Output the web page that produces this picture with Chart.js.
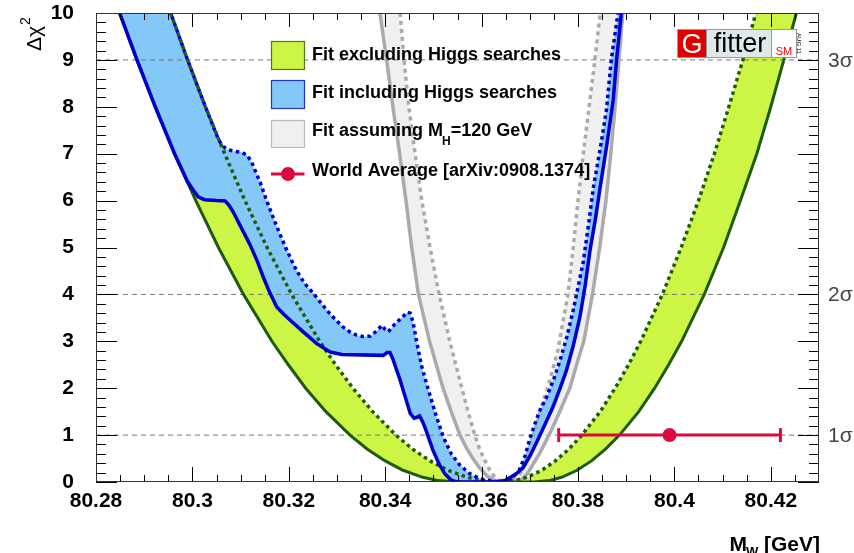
<!DOCTYPE html>
<html>
<head>
<meta charset="utf-8">
<script src="https://cdn.jsdelivr.net/npm/chart.js@4.4.0/dist/chart.umd.min.js"></script>
<style>
  html, body { margin: 0; padding: 0; background: #fff; overflow: hidden; }
  canvas { display: block; }
</style>
</head>
<body>
<canvas id="c" width="854" height="553"></canvas>
<script>
// Axis ticks
const massTicks = [80.28, 80.30, 80.32, 80.34, 80.36, 80.38, 80.40, 80.42];
const chi2Ticks = [0, 1, 2, 3, 4, 5, 6, 7, 8, 9, 10];
const sigmaLevels = [1, 4, 9];
const sigmaLabels = ['1\u03c3', '2\u03c3', '3\u03c3'];

// Fit excluding Higgs searches: edges of the theory band [M_W, delta chi2]
const exclSolid = [
  [80.2849,10],[80.2885,9],[80.2923,8],[80.2963,7],[80.3007,6],[80.3054,5],[80.3106,4],
  [80.3165,3],[80.3199,2.5],[80.3235,2],[80.3277,1.5],[80.3327,1],[80.3363,0.7],
  [80.3400,0.45],[80.3437,0.25],[80.3478,0.1],[80.3510,0.03],[80.3548,0],[80.3710,0],
  [80.3740,0.03],[80.3766,0.1],[80.3798,0.25],[80.3828,0.45],[80.3857,0.7],[80.3886,1],
  [80.3926,1.5],[80.3959,2],[80.3988,2.5],[80.4015,3],[80.4062,4],[80.4102,5],[80.4137,6],
  [80.4171,7],[80.4200,8],[80.4227,9],[80.4253,10]
];
const exclDotted = [
  [80.2955,10],[80.2990,9],[80.3027,8],[80.3067,7],[80.3109,6],[80.3155,5],[80.3206,4],
  [80.3264,3],[80.3297,2.5],[80.3333,2],[80.3374,1.5],[80.3422,1],[80.3457,0.7],
  [80.3493,0.45],[80.3530,0.25],[80.3570,0.1],[80.3601,0.03],[80.3638,0],[80.3670,0.03],
  [80.3694,0.1],[80.3725,0.25],[80.3753,0.45],[80.3781,0.7],[80.3808,1],[80.3846,1.5],
  [80.3877,2],[80.3905,2.5],[80.3930,3],[80.3975,4],[80.4014,5],[80.4050,6],[80.4083,7],
  [80.4113,8],[80.4142,9],[80.4169,10]
];

// Fit including Higgs searches
const inclSolid = [
  [80.2849,10],[80.2885,9],[80.2923,8],[80.2963,7],[80.2990,6.4],[80.3002,6.22],[80.3012,6.08],
  [80.3025,6.02],[80.3050,6.0],[80.3068,5.99],[80.3076,5.9],[80.3085,5.75],[80.3100,5.45],
  [80.3120,5.05],[80.3135,4.7],[80.3147,4.37],[80.3160,4.05],[80.3175,3.73],[80.3190,3.57],
  [80.3203,3.45],[80.3230,3.2],[80.3258,2.95],[80.3286,2.77],[80.3310,2.72],[80.3396,2.70],
  [80.3404,2.76],[80.3410,2.76],[80.3416,2.62],[80.3431,2.17],[80.3452,1.46],[80.3460,1.36],
  [80.3466,1.38],[80.3471,1.41],[80.3477,1.3],[80.3483,1.15],[80.3499,0.68],[80.3512,0.38],
  [80.3524,0.17],[80.3537,0.04],[80.3548,0],[80.3631,0],[80.3650,0.04],[80.3670,0.16],
  [80.3686,0.3],[80.3700,0.55],[80.3712,0.8],[80.3728,1.15],[80.3748,1.6],[80.3763,2.0],
  [80.3776,2.38],[80.3790,2.9],[80.3804,3.52],[80.3815,4.2],[80.3825,4.94],[80.3836,5.6],
  [80.3846,6.29],[80.3860,7.2],[80.3873,8.14],[80.3880,9],[80.3890,10]
];
const inclDotted = [
  [80.2955,10],[80.2990,9],[80.3027,8],[80.3054,7.3],[80.3063,7.16],[80.3073,7.09],[80.3088,7.05],
  [80.3103,7.03],[80.3113,6.97],[80.3122,6.84],[80.3131,6.62],[80.3141,6.38],[80.3152,6.06],
  [80.3166,5.68],[80.3181,5.3],[80.3196,4.94],[80.3210,4.63],[80.3224,4.37],[80.3238,4.17],
  [80.3251,4.02],[80.3265,3.84],[80.3279,3.66],[80.3296,3.47],[80.3313,3.30],[80.3327,3.2],
  [80.3341,3.13],[80.3355,3.10],[80.3369,3.11],[80.3382,3.22],[80.3393,3.34],[80.3400,3.25],
  [80.3406,3.2],[80.3413,3.28],[80.3420,3.37],[80.3434,3.5],[80.3446,3.62],[80.3452,3.6],
  [80.3458,3.4],[80.3466,2.95],[80.3476,2.45],[80.3490,1.95],[80.3506,1.4],[80.3521,0.95],
  [80.3537,0.6],[80.3555,0.36],[80.3575,0.18],[80.3597,0.07],[80.3620,0.02],[80.3640,0],
  [80.3652,0.03],[80.3664,0.1],[80.3678,0.25],[80.3690,0.55],[80.3700,0.92],[80.3711,1.25],
  [80.3721,1.53],[80.3735,1.81],[80.3750,2.2],[80.3763,2.6],[80.3777,3.1],[80.3790,3.66],
  [80.3801,4.2],[80.3811,4.7],[80.3822,5.5],[80.3832,6.29],[80.3846,7.1],[80.3859,7.93],
  [80.3869,9],[80.3883,10]
];

// Fit assuming M_H = 120 GeV
const mh120Solid = [
  [80.3389,10],[80.3403,9],[80.3416,8],[80.3430,7],[80.3443,6],[80.3455,5],[80.3469,4],
  [80.3492,3],[80.3520,2],[80.3537,1.5],[80.3555,1],[80.3570,0.7],[80.3582,0.5],[80.3596,0.3],
  [80.3612,0.12],[80.3628,0.03],[80.3645,0],[80.3668,0],[80.3682,0.05],[80.3695,0.18],
  [80.3708,0.4],[80.3720,0.6],[80.3740,1.0],[80.3760,1.45],[80.3783,2.0],[80.3800,2.6],
  [80.3812,3.0],[80.3830,4.0],[80.3845,5.0],[80.3858,6.0],[80.3868,7.0],[80.3877,8.0],
  [80.3885,9.0],[80.3893,10]
];
const mh120Dotted = [
  [80.3431,10],[80.3439,9],[80.3449,8],[80.3462,7],[80.3476,6],[80.3493,5],[80.3512,4],
  [80.3534,3],[80.3559,2],[80.3572,1.5],[80.3586,1],[80.3596,0.7],[80.3605,0.5],[80.3617,0.25],
  [80.3630,0.07],[80.3645,0],[80.3663,0.05],[80.3680,0.18],[80.3692,0.45],[80.3700,0.7],
  [80.3715,1.25],[80.3727,1.7],[80.3737,2.0],[80.3758,2.8],[80.3779,4.0],[80.3790,5.0],
  [80.3800,6.0],[80.3811,7.0],[80.3823,8.0],[80.3835,9.0],[80.3846,10]
];

// World average measurement (GeV)
const worldAvgMass = [80.399];
const worldAvgErr = [0.023];
const worldAvgChi2 = [1];

const C = {
  greenFill: '#ccf545', greenLine: '#1e5b0c',
  blueFill: '#84c8f7', blueLine: '#0000cc',
  grayFill: '#f0f0f0', grayLine: '#aaaaaa',
  red: '#dc0a3c', dash: '#777777'
};

const pts = arr => arr.map(([x, y]) => ({ x, y }));
const band = (a, b) => pts(a.concat(b.slice().reverse()));

const bandSet = (data, color, order) => ({
  data, order, fill: 'shape', backgroundColor: color,
  borderWidth: 0, borderColor: 'rgba(0,0,0,0)', pointRadius: 0
});
const lineSet = (data, color, width, order, dash, offset) => ({
  data: pts(data), order, borderColor: color, borderWidth: width, fill: false,
  pointRadius: 0, borderDash: dash || [], borderDashOffset: offset || 0, borderCapStyle: 'butt'
});

const datasets = [
  bandSet(band(exclSolid, exclDotted), C.greenFill, 20),
  bandSet(band(mh120Solid, mh120Dotted), C.grayFill, 19),
  bandSet(band(inclSolid, inclDotted), C.blueFill, 18),
  ...sigmaLevels.map(l => ({
    data: [{ x: 80.28, y: l }, { x: 80.43, y: l }], order: 17,
    borderColor: C.dash, borderWidth: 1, borderDash: [5, 4], pointRadius: 0, fill: false
  })),
  lineSet(mh120Solid, C.grayLine, 3.5, 16),
  lineSet(mh120Dotted, C.grayLine, 3.5, 15, [4, 4]),
  lineSet(exclSolid, C.greenLine, 3, 14),
  lineSet(exclDotted, C.greenLine, 3.5, 13, [3.5, 3.5]),
  lineSet(inclSolid, C.blueLine, 3.5, 12),
  lineSet(inclDotted, C.blueLine, 3.5, 11, [3.5, 3.5], 3.5),
  {
    // error bar with end caps
    data: [{ x: worldAvgMass[0] - worldAvgErr[0], y: worldAvgChi2[0] },
           { x: worldAvgMass[0] + worldAvgErr[0], y: worldAvgChi2[0] }],
    order: 2, borderColor: C.red, borderWidth: 3, fill: false,
    pointStyle: 'line', pointRotation: 90, pointRadius: 7,
    pointBorderWidth: 3, pointBorderColor: C.red, pointBackgroundColor: C.red
  },
  {
    data: worldAvgMass.map((m, i) => ({ x: m, y: worldAvgChi2[i] })),
    order: 1, showLine: false, pointStyle: 'circle', pointRadius: 7,
    pointBackgroundColor: C.red, pointBorderColor: C.red, pointBorderWidth: 0
  }
];

const FONT = '"Liberation Sans", Arial, sans-serif';

const decor = {
  id: 'decor',
  afterDatasetsDraw(chart) {
    const { ctx, chartArea: a, scales: { x, y } } = chart;
    ctx.save();
    ctx.strokeStyle = '#000';
    ctx.lineWidth = 1;
    ctx.beginPath();
    for (let k = 0; k < 30; k++) {
      const px = Math.round(x.getPixelForValue(80.28 + k * 0.005)) + 0.5;
      const major = k % 4 === 0;
      ctx.moveTo(px, a.bottom); ctx.lineTo(px, a.bottom - (major ? 15 : 7));
      ctx.moveTo(px, a.top); ctx.lineTo(px, a.top + (major ? 14 : 7));
    }
    for (let k = 0; k <= 50; k++) {
      const py = Math.round(y.getPixelForValue(k * 0.2)) + 0.5;
      const len = k % 5 === 0 ? 21 : 10;
      ctx.moveTo(a.left, py); ctx.lineTo(a.left + len, py);
      ctx.moveTo(a.right, py); ctx.lineTo(a.right - len, py);
    }
    ctx.stroke();
    ctx.strokeStyle = '#333';
    ctx.strokeRect(Math.round(a.left) + 0.5, Math.round(a.top) + 0.5,
                   Math.round(a.right - a.left) - 1, Math.round(a.bottom - a.top) - 1);

    // sigma labels on the right axis
    ctx.fillStyle = '#444';
    ctx.font = '21px ' + FONT;
    ctx.textAlign = 'left';
    ctx.textBaseline = 'middle';
    sigmaLevels.forEach((l, i) => ctx.fillText(sigmaLabels[i], a.right + 9, y.getPixelForValue(l) + 1));
    ctx.restore();
  },
  afterDraw(chart) {
    const { ctx } = chart;
    ctx.save();
    ctx.fillStyle = '#000';
    ctx.textBaseline = 'alphabetic';

    // y-axis title
    ctx.save();
    ctx.translate(41, 51);
    ctx.rotate(-Math.PI / 2);
    ctx.font = '21px ' + FONT;
    ctx.textAlign = 'left';
    ctx.fillText('\u0394\u03c7', 0, 0);
    const wt = ctx.measureText('\u0394\u03c7').width;
    ctx.font = '14px ' + FONT;
    ctx.fillText('2', wt + 1, -11);
    ctx.restore();

    // x-axis title
    ctx.textAlign = 'left';
    ctx.font = 'bold 21px ' + FONT;
    const wM = ctx.measureText('M').width;
    const wR = ctx.measureText(' [GeV]').width;
    ctx.font = 'bold 13px ' + FONT;
    const wW = ctx.measureText('W').width;
    let tx = 820 - (wM + wW + wR) + 1;
    ctx.font = 'bold 21px ' + FONT;
    ctx.fillText('M', tx, 551);
    ctx.font = 'bold 13px ' + FONT;
    ctx.fillText('W', tx + wM - 1, 556);
    ctx.font = 'bold 21px ' + FONT;
    ctx.fillText(' [GeV]', tx + wM + wW - 1, 551);

    // legend
    const bx = 271.5, bw = 33, tx0 = 312;
    const box = (top, h, fill, stroke) => {
      ctx.fillStyle = fill; ctx.fillRect(bx, top, bw, h);
      ctx.strokeStyle = stroke; ctx.lineWidth = 1.2; ctx.strokeRect(bx, top, bw, h);
    };
    box(41.5, 28, C.greenFill, '#4a7a1a');
    box(80.5, 28, C.blueFill, '#2233cc');
    box(120.5, 27, C.grayFill, '#bbbbbb');
    ctx.strokeStyle = C.red; ctx.lineWidth = 3;
    ctx.beginPath(); ctx.moveTo(bx - 0.5, 174); ctx.lineTo(bx + bw, 174); ctx.stroke();
    ctx.fillStyle = C.red;
    ctx.beginPath(); ctx.arc(bx + bw / 2, 174, 7, 0, Math.PI * 2); ctx.fill();

    ctx.fillStyle = '#000';
    ctx.font = 'bold 18px ' + FONT;
    ctx.fillText('Fit excluding Higgs searches', tx0, 60);
    ctx.fillText('Fit including Higgs searches', tx0, 98);
    const s1 = 'Fit assuming M';
    ctx.fillText(s1, tx0, 136);
    const w1 = ctx.measureText(s1).width;
    ctx.font = 'bold 12px ' + FONT;
    ctx.fillText('H', tx0 + w1 - 1, 145);
    const wH = ctx.measureText('H').width;
    ctx.font = 'bold 18px ' + FONT;
    ctx.fillText('=120 GeV', tx0 + w1 + wH - 1, 136);
    ctx.fillText('World Average [arXiv:0908.1374]', tx0, 176);

    // Gfitter badge
    ctx.fillStyle = '#dfe9eb'; ctx.fillRect(706, 30, 66, 27);
    ctx.fillStyle = '#fff'; ctx.fillRect(772, 30, 24, 27);
    ctx.fillStyle = '#e00000'; ctx.fillRect(678, 30, 28, 27);
    ctx.strokeStyle = '#999'; ctx.lineWidth = 1;
    ctx.strokeRect(677.5, 29.5, 119, 28);
    ctx.beginPath(); ctx.moveTo(706.5, 30); ctx.lineTo(706.5, 57); ctx.moveTo(771.5, 30); ctx.lineTo(771.5, 57); ctx.stroke();
    ctx.textAlign = 'center';
    ctx.fillStyle = '#fff'; ctx.font = '27px ' + FONT;
    ctx.fillText('G', 692, 53);
    ctx.fillStyle = '#000'; ctx.font = '27px ' + FONT;
    ctx.fillText('fitter', 740, 52);
    ctx.fillStyle = '#ff0000'; ctx.font = '11px ' + FONT;
    ctx.fillText('SM', 784, 55);
    ctx.save();
    ctx.translate(799, 43.5);
    ctx.rotate(Math.PI / 2);
    ctx.fillStyle = '#000'; ctx.font = '6px ' + FONT;
    ctx.textBaseline = 'middle';
    ctx.fillText('AUG 11', 0, 0);
    ctx.restore();
    ctx.restore();
  }
};

const fmt = v => String(Number(Number(v).toFixed(2)));

new Chart(document.getElementById('c'), {
  type: 'line',
  data: { datasets },
  options: {
    responsive: false,
    animation: false,
    events: [],
    layout: { padding: { left: 0, right: 35, top: 13, bottom: 0 } },
    plugins: { legend: { display: false }, tooltip: { enabled: false } },
    elements: { line: { tension: 0 } },
    scales: {
      x: {
        type: 'linear', min: 80.28, max: 80.43,
        afterBuildTicks: s => { s.ticks = massTicks.map(v => ({ value: v })); },
        afterFit: s => { s.height = 71; s.paddingLeft = 0; s.paddingRight = 0; },
        grid: { display: false }, border: { display: false },
        ticks: {
          color: '#000', padding: -1, maxRotation: 0, autoSkip: false,
          font: { family: FONT, weight: 'bold', size: 21 },
          callback: v => fmt(v)
        }
      },
      y: {
        type: 'linear', min: 0, max: 10,
        afterBuildTicks: s => { s.ticks = chi2Ticks.map(v => ({ value: v })); },
        afterFit: s => { s.width = 96; s.paddingTop = 0; s.paddingBottom = 0; },
        grid: { display: false }, border: { display: false },
        ticks: {
          color: '#000', padding: 14, autoSkip: false,
          font: { family: FONT, weight: 'bold', size: 21 },
          callback: v => String(v)
        }
      }
    }
  },
  plugins: [decor]
});
</script>
</body>
</html>
